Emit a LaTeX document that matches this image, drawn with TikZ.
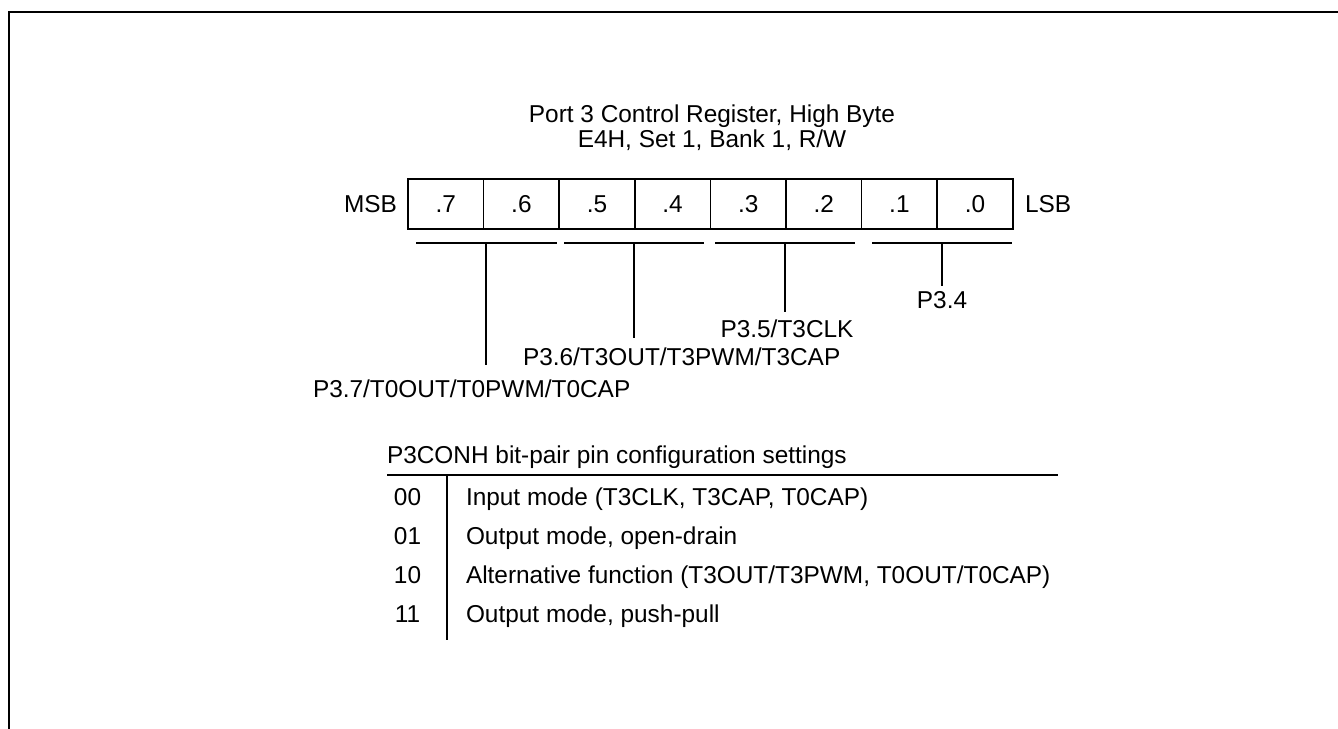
\documentclass[tikz,border=0pt]{standalone}
\usepackage{fontspec}
\setmainfont{Liberation Sans}
\begin{document}
\begin{tikzpicture}[x=1pt,y=-1pt,
  every node/.style={inner sep=0pt, outer sep=0pt, font=\fontsize{24.4}{28}\selectfont},
  cell/.style={draw, line width=1.5pt, minimum width=75.6pt, minimum height=50pt, anchor=north west, text depth=0pt},
  ln/.style={line width=1.5pt},
  frame/.style={line width=2pt}]
\useasboundingbox (0,0) rectangle (1338,728);
\clip (0,0) rectangle (1338,728);
\draw[frame] (9,740) -- (9,12) -- (1350,12);
% title
\node[anchor=base] (t1) at (712,122) {Port 3 Control Register, High Byte};
\node[anchor=base] (t2) at (712,147) {E4H, Set 1, Bank 1, R/W};
% register cells
\foreach \i/\b in {0/7,1/6,2/5,3/4,4/3,5/2,6/1,7/0}{
  \node[cell] (b\b) at ({408+75.6*\i},179) {};
  \node[anchor=base] (l\b) at ({408+75.6*\i+37.8},212) {.\b};
}
\node[anchor=base east] (msb) at (397,212) {MSB};
\node[anchor=base west] (lsb) at (1025,212) {LSB};
% brackets
\coordinate (a1) at (416,243); \coordinate (a2) at (557,243);
\coordinate (c1) at (564,243); \coordinate (c2) at (704,243);
\coordinate (e1) at (715,243); \coordinate (e2) at (855,243);
\coordinate (g1) at (872,243); \coordinate (g2) at (1012,243);
\draw[ln] (a1) -- (a2); \draw[ln] (c1) -- (c2);
\draw[ln] (e1) -- (e2); \draw[ln] (g1) -- (g2);
\coordinate (am) at (486,243); \coordinate (ae) at (486,365);
\coordinate (cm) at (634,243); \coordinate (ce) at (634,338);
\coordinate (em) at (785,243); \coordinate (ee) at (785,312);
\coordinate (gm) at (942,243); \coordinate (ge) at (942,286);
\draw[ln] (am) -- (ae); \draw[ln] (cm) -- (ce);
\draw[ln] (em) -- (ee); \draw[ln] (gm) -- (ge);
\node[anchor=base] (p34) at (942,308) {P3.4};
\node[anchor=base] (p35) at (787,337) {P3.5/T3CLK};
\node[anchor=base west] (p36) at (523,365) {P3.6/T3OUT/T3PWM/T3CAP};
\node[anchor=base west] (p37) at (313,397) {P3.7/T0OUT/T0PWM/T0CAP};
% table
\node[anchor=base west] (tt) at (387,463) {P3CONH bit-pair pin configuration settings};
\coordinate (h1) at (387,475); \coordinate (h2) at (1058,475);
\draw[ln] (h1) -- (h2);
\coordinate (v1) at (447,475); \coordinate (v2) at (447,640);
\draw[ln] (v1) -- (v2);
\foreach \c/\t/\y in {00/{Input mode (T3CLK, T3CAP, T0CAP)}/505, 01/{Output mode, open-drain}/544, 10/{Alternative function (T3OUT/T3PWM, T0OUT/T0CAP)}/583, 11/{Output mode, push-pull}/622}{
  \node[anchor=base] (k\c) at (407.5,\y) {\c};
  \node[anchor=base west] (d\c) at (466,\y) {\t};
}
\end{tikzpicture}
\end{document}
